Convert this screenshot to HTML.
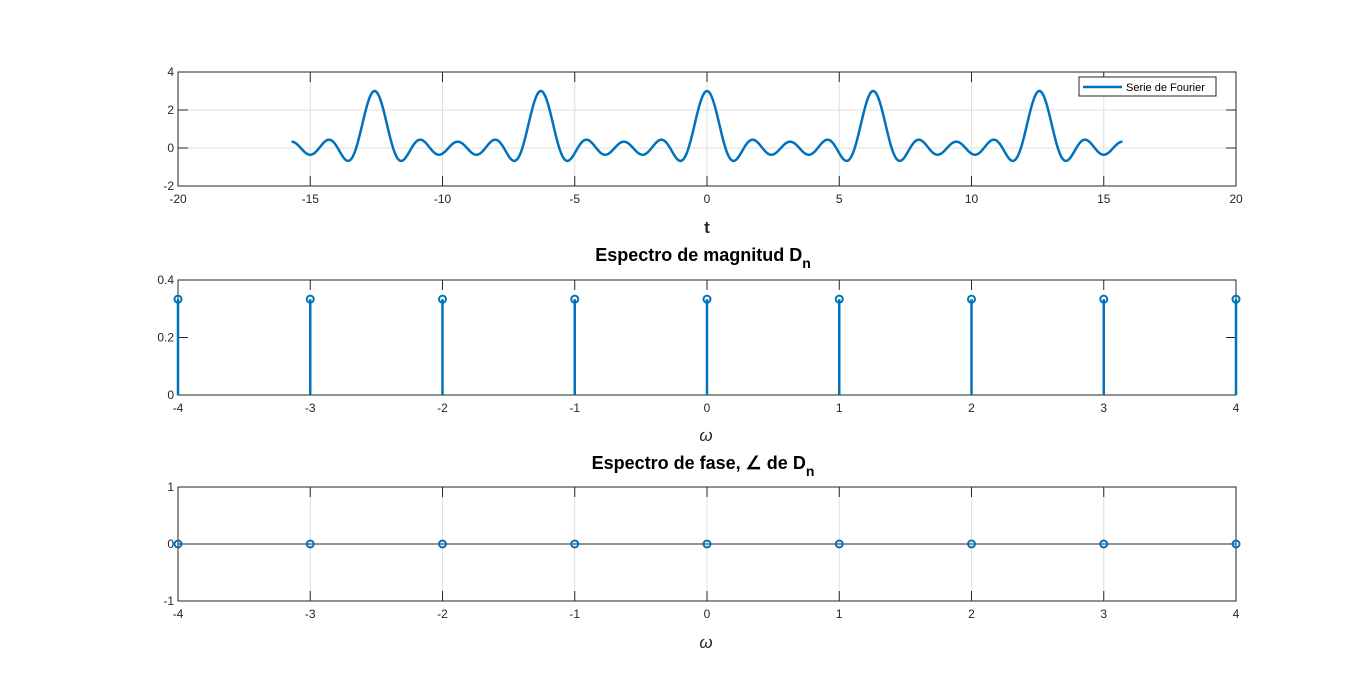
<!DOCTYPE html>
<html><head><meta charset="utf-8"><style>
html,body{margin:0;padding:0;background:#fff;}
svg{display:block;font-family:"Liberation Sans",Arial,sans-serif;}
</style></head><body>
<svg id="fig" width="1366" height="691" viewBox="0 0 1366 691"></svg>
<script>
const harmonics=[-4,-3,-2,-1,0,1,2,3,4];
const magnitudes=[0.3333,0.3333,0.3333,0.3333,0.3333,0.3333,0.3333,0.3333,0.3333];
const phases=[0,0,0,0,0,0,0,0,0];
const tRange=[-15.708,15.708];
const topXTicks=[-20,-15,-10,-5,0,5,10,15,20];
const topYTicks=[-2,0,2,4];
const magXTicks=[-4,-3,-2,-1,0,1,2,3,4];
const magYTicks=[0,0.2,0.4];
const phYTicks=[-1,0,1];

const NS='http://www.w3.org/2000/svg';
const svg=document.getElementById('fig');
function el(tag,attrs,parent,text){const e=document.createElementNS(NS,tag);for(const k in attrs)e.setAttribute(k,attrs[k]);if(text!==undefined)e.textContent=text;(parent||svg).appendChild(e);return e;}
const L=178,R=1236;
function scale(d0,d1,r0,r1){return v=>r0+(v-d0)/(d1-d0)*(r1-r0);}
function axes(name,top,bot,xd,yd,xt,yt,vgrid,hgrid,fmtY){
  const g=el('g',{});
  
  
  const x=scale(xd[0],xd[1],L,R),y=scale(yd[0],yd[1],bot,top);
  if(vgrid)xt.forEach(v=>el('line',{x1:x(v),x2:x(v),y1:top,y2:bot,stroke:'#dfdfdf','stroke-width':1},g));
  if(hgrid)yt.forEach(v=>el('line',{x1:L,x2:R,y1:y(v),y2:y(v),stroke:'#dfdfdf','stroke-width':1},g));
  el('rect',{x:L,y:top,width:R-L,height:bot-top,fill:'none',stroke:'#262626','stroke-width':1},g);
  xt.forEach(v=>{el('line',{x1:x(v),x2:x(v),y1:bot,y2:bot-10,stroke:'#262626'},g);el('line',{x1:x(v),x2:x(v),y1:top,y2:top+10,stroke:'#262626'},g);
    const t=el('text',{x:x(v),y:bot+17,'text-anchor':'middle','font-size':12,fill:'#262626'},g,String(v));});
  yt.forEach(v=>{el('line',{x1:L,x2:L+10,y1:y(v),y2:y(v),stroke:'#262626'},g);el('line',{x1:R,x2:R-10,y1:y(v),y2:y(v),stroke:'#262626'},g);
    const t=el('text',{x:L-4,y:y(v)+4,'text-anchor':'end','font-size':12,fill:'#262626'},g,fmtY?fmtY(v):String(v));});
  return {x,y,g};
}
const BLUE='#0072BD';
// Top
const a1=axes('fourier-axes',72,186,[-20,20],[-2,4],topXTicks,topYTicks,true,true);
let pts=[];const N=1200;
for(let i=0;i<=N;i++){const t=tRange[0]+(tRange[1]-tRange[0])*i/N;let s=0;
  harmonics.forEach((n,k)=>{s+=magnitudes[k]*Math.cos(n*t+phases[k]);});
  pts.push(a1.x(t).toFixed(2)+','+a1.y(s).toFixed(2));}
const line=el('polyline',{points:pts.join(' '),fill:'none',stroke:BLUE,'stroke-width':2.5,'stroke-linejoin':'round'},a1.g);


const leg=el('g',{});


el('rect',{x:1079,y:77,width:137,height:19,fill:'#fff',stroke:'#262626'},leg);
el('line',{x1:1083,x2:1122,y1:87,y2:87,stroke:BLUE,'stroke-width':2.5},leg);
const lt=el('text',{x:1126,y:91,'font-size':11,fill:'#000'},leg,'Serie de Fourier');


const xl1=el('text',{x:707,y:233,'text-anchor':'middle','font-size':17,'font-weight':'bold',fill:'#262626'},svg,'t');


// Middle
const t2=el('text',{x:703,y:261,'text-anchor':'middle','font-size':18,'font-weight':'bold',fill:'#000'});


t2.innerHTML='Espectro de magnitud D<tspan dy="7" font-size="14">n</tspan>';
const a2=axes('magnitude-axes',280,395,[-4,4],[0,0.4],magXTicks,magYTicks,false,false,v=>v===0?'0':v.toFixed(1));
harmonics.forEach((n,k)=>{
  const s=el('line',{x1:a2.x(n),x2:a2.x(n),y1:a2.y(0),y2:a2.y(magnitudes[k]),stroke:BLUE,'stroke-width':2.5},a2.g);
  
  
  const c=el('circle',{cx:a2.x(n),cy:a2.y(magnitudes[k]),r:3.5,fill:'none',stroke:BLUE,'stroke-width':2},a2.g);
  
  
});
const xl2=el('text',{x:706,y:441,'text-anchor':'middle','font-size':17,'font-style':'italic',fill:'#262626'},svg,'ω');


// Bottom
const t3=el('text',{x:703,y:469,'text-anchor':'middle','font-size':18,'font-weight':'bold',fill:'#000'});


t3.innerHTML='Espectro de fase, ∠ de D<tspan dy="7" font-size="14">n</tspan>';
const a3=axes('phase-axes',487,601,[-4,4],[-1,1],magXTicks,phYTicks,true,true);
el('line',{x1:L,x2:R,y1:a3.y(0),y2:a3.y(0),stroke:'#262626','stroke-width':1},a3.g);
harmonics.forEach((n,k)=>{
  const s=el('line',{x1:a3.x(n),x2:a3.x(n),y1:a3.y(0),y2:a3.y(phases[k]),stroke:BLUE,'stroke-width':2.5},a3.g);
  
  
  const c=el('circle',{cx:a3.x(n),cy:a3.y(phases[k]),r:3.5,fill:'none',stroke:BLUE,'stroke-width':2},a3.g);
  
  
});
const xl3=el('text',{x:706,y:648,'text-anchor':'middle','font-size':17,'font-style':'italic',fill:'#262626'},svg,'ω');


</script>
</body></html>
